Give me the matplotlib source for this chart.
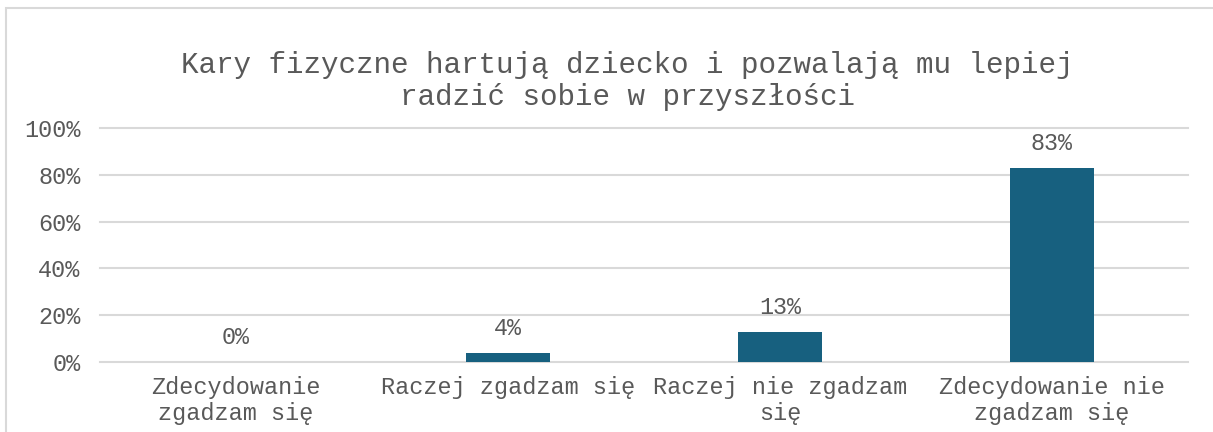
import matplotlib
matplotlib.use("Agg")
import matplotlib.pyplot as plt
from matplotlib.patches import Rectangle

categories = ["Zdecydowanie\nzgadzam się", "Raczej zgadzam się",
              "Raczej nie zgadzam\nsię", "Zdecydowanie nie\nzgadzam się"]
values = [0, 4, 13, 83]
labels = ["0%", "4%", "13%", "83%"]
yticks = [0, 20, 40, 60, 80, 100]
ytick_labels = ["0%", "20%", "40%", "60%", "80%", "100%"]
title = "Kary fizyczne hartują dziecko i pozwalają mu lepiej\nradzić sobie w przyszłości"

W, H = 1213, 432
plt.rcParams['font.family'] = ['Liberation Mono', 'DejaVu Sans Mono']
txt = "#595959"
grid = "#d9d9d9"
bar_color = "#17607f"

fig = plt.figure(figsize=(W / 100, H / 100), dpi=100)
ax = fig.add_axes([100 / W, 1 - 362 / H, (1188 - 100) / W, (362 - 128) / H])

x = list(range(len(categories)))
ax.bar(x, values, width=0.31, color=bar_color, zorder=3)
for xi, v, lab in zip(x, values, labels):
    ax.annotate(lab, (xi, v), xytext=(0, 17.3), textcoords="offset points",
                ha="center", va="center", fontsize=16.8, color=txt)

ax.set_xlim(-0.5, len(categories) - 0.5)
ax.set_ylim(0, 100)
ax.set_yticks(yticks)
ax.set_yticklabels(ytick_labels)
ax.set_xticks(x)
ax.set_xticklabels(categories, linespacing=1.2)
ax.tick_params(axis="both", length=0, labelsize=16.9, labelcolor=txt)
ax.tick_params(axis="x", pad=10)
ax.tick_params(axis="y", pad=14)
for s in ax.spines.values():
    s.set_visible(False)
for yt in yticks:
    ax.axhline(yt, color=grid, lw=1.5, zorder=1, clip_on=False)

fig.text(627 / W, 1 - 81 / H, title, ha="center", va="center", fontsize=21.1,
         color=txt, linespacing=1.2)

fig.patches.append(Rectangle((6 / W, -0.2), 2, (1 - 8 / H) + 0.2,
                             transform=fig.transFigure, fill=False,
                             edgecolor=grid, lw=1.5))

fig.savefig("out.png", dpi=100)
